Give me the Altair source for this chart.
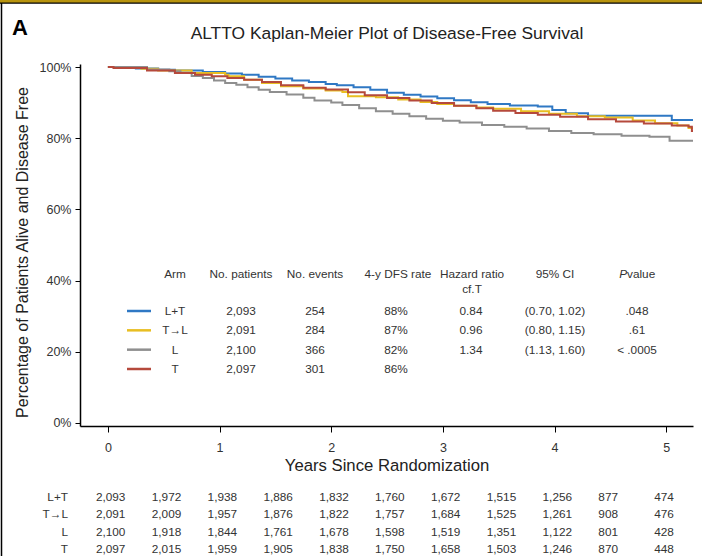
import altair as alt
import pandas as pd

# ---------------- data ----------------
arms = ["L+T", "T→L", "L", "T"]
arm_colors = ["#2F78C4", "#E8BE22", "#8F8F8F", "#B5493C"]

# Kaplan-Meier step points: years, % alive and disease free
lt_time = [0.00, 0.25, 0.45, 0.60, 0.85, 1.05, 1.20, 1.35, 1.50, 1.65, 1.80, 1.95, 2.05, 2.20,
           2.35, 2.50, 2.65, 2.80, 2.95, 3.10, 3.25, 3.40, 3.60, 3.85, 3.98, 4.10, 4.30, 5.05, 5.24]
lt_surv = [100.0, 99.6, 99.2, 99.0, 98.6, 98.2, 97.8, 97.3, 96.8, 96.2, 95.8, 95.2, 94.9, 94.3,
           93.6, 92.8, 92.2, 91.7, 91.2, 90.7, 90.1, 89.6, 89.2, 88.9, 87.9, 87.0, 86.3, 85.1, 85.1]

tl_time = [0.00, 0.30, 0.45, 0.75, 1.05, 1.08, 1.22, 1.38, 1.55, 1.75, 1.95, 2.10, 2.15, 2.40,
           2.60, 2.80, 2.95, 3.10, 3.30, 3.45, 3.70, 3.95, 4.20, 4.45, 4.70, 4.90, 5.10, 5.20, 5.24]
tl_surv = [100.0, 99.5, 99.0, 98.3, 97.8, 97.4, 96.4, 95.5, 94.6, 94.0, 93.4, 93.0, 91.8, 91.5,
           90.9, 90.2, 89.6, 89.1, 88.6, 88.3, 87.6, 86.9, 86.2, 85.8, 85.0, 84.2, 83.6, 82.9, 82.9]

l_time = [0.00, 0.35, 0.55, 0.65, 0.75, 0.85, 0.95, 1.05, 1.15, 1.25, 1.35, 1.45, 1.60, 1.75,
          1.85, 2.00, 2.10, 2.25, 2.40, 2.55, 2.70, 2.85, 3.00, 3.15, 3.35, 3.55, 3.75, 3.95,
          4.15, 4.35, 4.60, 4.85, 5.03, 5.24]
l_surv = [100.0, 99.3, 98.8, 98.3, 97.5, 96.9, 96.2, 95.5, 95.0, 94.3, 93.6, 93.0, 92.3, 91.4,
          90.6, 90.0, 89.3, 88.4, 87.6, 86.9, 86.2, 85.5, 84.9, 84.4, 83.7, 83.2, 82.7, 82.0,
          81.5, 81.1, 80.7, 80.4, 79.3, 79.3]

t_time = [0.00, 0.05, 0.35, 0.60, 0.78, 0.93, 1.07, 1.22, 1.38, 1.55, 1.75, 1.95, 2.15, 2.30,
          2.50, 2.70, 2.90, 3.10, 3.30, 3.45, 3.65, 3.85, 4.05, 4.30, 4.55, 4.80, 5.05, 5.20,
          5.23, 5.24]
t_surv = [100.0, 99.7, 99.0, 98.3, 97.8, 97.4, 96.9, 96.4, 95.8, 94.9, 94.2, 93.7, 92.9, 92.1,
          91.3, 90.6, 89.9, 89.1, 88.4, 87.7, 87.1, 86.6, 86.0, 85.3, 84.7, 84.1, 83.6, 83.2,
          82.0, 82.0]

# summary table
patients = ["2,093", "2,091", "2,100", "2,097"]
events = ["254", "284", "366", "301"]
dfs_rate = ["88%", "87%", "82%", "86%"]
hazard = ["0.84", "0.96", "1.34", ""]
conf_int = ["(0.70, 1.02)", "(0.80, 1.15)", "(1.13, 1.60)", ""]
p_values = [".048", ".61", "< .0005", ""]

# number at risk
risk_times = [0, 0.5, 1, 1.5, 2, 2.5, 3, 3.5, 4, 4.5, 5]
risk_lt = [2093, 1972, 1938, 1886, 1832, 1760, 1672, 1515, 1256, 877, 474]
risk_tl = [2091, 2009, 1957, 1876, 1822, 1757, 1684, 1525, 1261, 908, 476]
risk_l = [2100, 1918, 1844, 1761, 1678, 1598, 1519, 1351, 1122, 801, 428]
risk_t = [2097, 2015, 1959, 1905, 1838, 1750, 1658, 1503, 1246, 870, 448]

# ---------------- tables for the library ----------------
curve_rows = []
for arm, ts, ss in [("L+T", lt_time, lt_surv), ("T→L", tl_time, tl_surv),
                    ("L", l_time, l_surv), ("T", t_time, t_surv)]:
    for t, s in zip(ts, ss):
        curve_rows.append({"arm": arm, "t": t, "s": s})
curve_df = pd.DataFrame(curve_rows)

summary_df = pd.DataFrame({"arm": arms, "patients": patients, "events": events,
                           "rate": dfs_rate, "hr": hazard, "ci": conf_int, "p": p_values})

risk_rows = []
for arm, ns in zip(arms, [risk_lt, risk_tl, risk_l, risk_t]):
    for t, n in zip(risk_times, ns):
        risk_rows.append({"arm": arm, "t": t, "n": n})
risk_df = pd.DataFrame(risk_rows)

# ---------------- chart ----------------
FONT = "Liberation Sans"
TXT = "#333333"
TS = 11.8  # table font size

x_scale = alt.Scale(domain=[-0.25, 5.24], nice=False, zero=False)
color = alt.Color("arm:N", scale=alt.Scale(domain=arms, range=arm_colors), legend=None)
legend_y = alt.Y("arm:N", sort=arms,
                 scale=alt.Scale(type="point", domain=arms, range=[247, 305], padding=0), axis=None)
risk_y = alt.Y("arm:N", sort=arms,
               scale=alt.Scale(type="point", domain=arms, range=[433, 485], padding=0), axis=None)

curves = alt.Chart(curve_df).mark_line(interpolate="step-after", strokeWidth=2).encode(
    x=alt.X("t:Q", scale=x_scale,
            axis=alt.Axis(values=[0, 1, 2, 3, 4, 5], format="d", tickSize=6, labelPadding=9,
                          title="Years Since Randomization", titleFont=FONT, titleFontSize=16.7,
                          titleFontWeight="normal", titleColor="#222", titleY=39,
                          titleBaseline="middle", labelFont=FONT, labelFontSize=12.5,
                          labelColor=TXT, domainColor="black", domainWidth=1.5,
                          tickColor="black", tickWidth=1, grid=False)),
    y=alt.Y("s:Q", scale=alt.Scale(domain=[-0.85, 100.85], nice=False, zero=False),
            axis=alt.Axis(values=[0, 20, 40, 60, 80, 100], labelExpr="datum.value + '%'",
                          tickSize=5, labelPadding=4, title="Percentage of Patients Alive and Disease Free",
                          titleFont=FONT, titleFontSize=16, titleFontWeight="normal", titleColor="#222",
                          titleX=-58, titleY=188, titleAngle=-90, titleAlign="center",
                          titleBaseline="middle", labelFont=FONT, labelFontSize=12.5, labelColor=TXT,
                          domainColor="black", domainWidth=1.5, tickColor="black", grid=False)),
    color=color,
)

legend_lines = alt.Chart(summary_df).mark_rule(strokeWidth=2.5).encode(
    x=alt.value(47), x2=alt.value(71), y=legend_y, color=color)


def column(field, xpos):
    return alt.Chart(summary_df).mark_text(font=FONT, fontSize=TS, color=TXT, align="center",
                                           baseline="middle").encode(
        x=alt.value(xpos), y=legend_y, text=alt.Text(f"{field}:N"))


def label(text, xpos, ypos, align="center", size=TS, style="normal", weight="normal",
          font=FONT, col=TXT):
    return alt.Chart(pd.DataFrame({"label": [text]})).mark_text(
        font=font, fontSize=size, color=col, align=align, baseline="middle",
        fontStyle=style, fontWeight=weight).encode(
        x=alt.value(xpos), y=alt.value(ypos), text="label:N")


table_cols = [column("arm", 95), column("patients", 161), column("events", 235),
              column("rate", 316), column("hr", 391), column("ci", 475), column("p", 557)]
headers = [label("Arm", 95, 210), label("No. patients", 161, 210), label("No. events", 235, 210),
           label("4-y DFS rate", 318, 210), label("Hazard ratio", 392, 210), label("cf.T", 392, 225),
           label("95% CI", 475, 210), label("P", 547, 210, align="right", style="italic"),
           label("value", 547, 210, align="left")]

risk_numbers = alt.Chart(risk_df).mark_text(font=FONT, fontSize=TS, color=TXT, align="left",
                                            baseline="middle", dx=-12).encode(
    x=alt.X("t:Q", scale=x_scale), y=risk_y, text=alt.Text("n:Q", format=",d"))
risk_labels = alt.Chart(summary_df).mark_text(font=FONT, fontSize=TS, color=TXT, align="right",
                                              baseline="middle").encode(
    x=alt.value(-12), y=risk_y, text="arm:N")

chart_title = label("ALTTO Kaplan-Meier Plot of Disease-Free Survival", 307, -30, size=17.4,
                    col="#222")
panel_letter = label("A", -68, -36, align="left", size=22, weight="bold", col="black")

frame_df = pd.DataFrame({"k": [0]})
gold_bar = alt.Chart(frame_df).mark_rule(color="#B8940E", strokeWidth=3).encode(
    x=alt.value(-80), x2=alt.value(622), y=alt.value(-62.5))
top_line = alt.Chart(frame_df).mark_rule(color="black", strokeWidth=1.2).encode(
    x=alt.value(-80), x2=alt.value(622), y=alt.value(-60.8))
left_line = alt.Chart(frame_df).mark_rule(color="black", strokeWidth=1.5).encode(
    x=alt.value(-78.5), y=alt.value(-61), y2=alt.value(492))

chart = alt.layer(
    curves, legend_lines, *table_cols, *headers, risk_numbers, risk_labels,
    chart_title, panel_letter, gold_bar, top_line, left_line,
).resolve_scale(y="independent").properties(
    width=613, height=362,
    padding={"left": 80, "top": 64, "right": 9, "bottom": 130},
    autosize=alt.AutoSizeParams(type="none"),
    background="white",
).configure_view(stroke=None)

chart.save("out.html", embed_options={"renderer": "svg", "actions": False})
